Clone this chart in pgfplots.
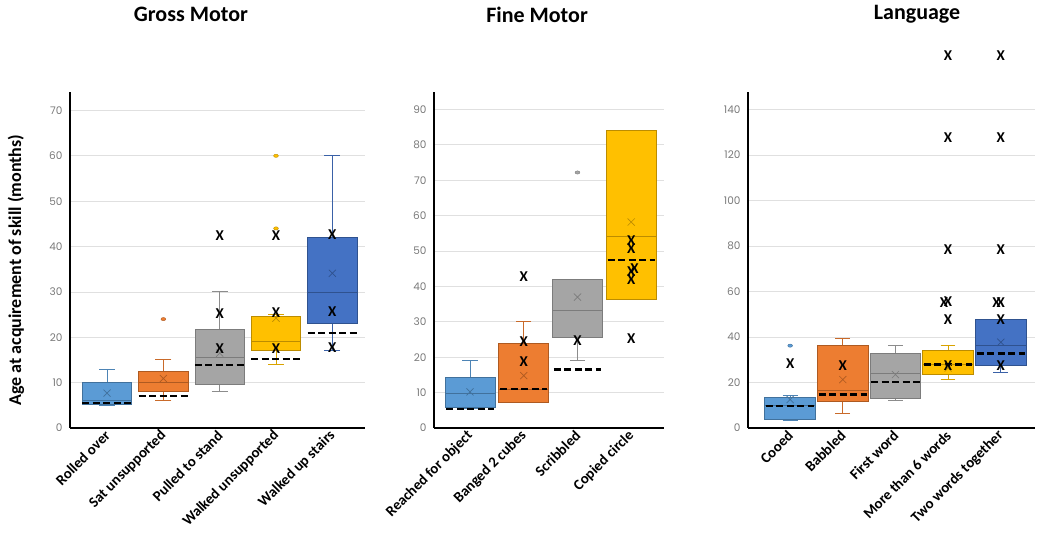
\documentclass[border=0pt]{standalone}
\usepackage{fontspec}
\usepackage{pgfplots}
\pgfplotsset{compat=1.18}
\usepgfplotslibrary{statistics}
\setmainfont{Carlito}
\newfontfamily\tickfont{Poppins}
\definecolor{cA}{HTML}{5B9BD5}\definecolor{dA}{HTML}{41719C}
\definecolor{cB}{HTML}{ED7D31}\definecolor{dB}{HTML}{AE5A21}
\definecolor{cC}{HTML}{A5A5A5}\definecolor{dC}{HTML}{7C7C7C}
\definecolor{cD}{HTML}{FFC000}\definecolor{dD}{HTML}{BC8C00}
\definecolor{cE}{HTML}{4472C4}\definecolor{dE}{HTML}{2F528F}
\definecolor{tickgray}{HTML}{7A7A7A}
\pgfplotsset{panel/.style={scale only axis, anchor=south west, clip=false,
  axis x line*=bottom, axis y line*=left, axis line style={line width=2pt,-},
  ymin=0, ymajorgrids, grid style={line width=0.8pt, black!12},
  major tick length=0pt,
  yticklabel style={font=\tickfont\fontsize{10.5}{12}\selectfont, text=tickgray, xshift=-4pt},
  /pgf/number format/assume math mode=true,
  xticklabel style={rotate=45, anchor=east, yshift=-4pt, font=\bfseries\fontsize{14.8}{16}\selectfont},
  title style={font=\bfseries\fontsize{22}{24}\selectfont, anchor=center},
  boxplot/draw direction=y,
  boxplot/whisker extend=0.28}}
% pos, lw, q1, med, q3, uw, fill, draw
\newcommand{\BOX}[8]{\addplot[draw=#8, fill=#7, line width=0.8pt,
  boxplot/every whisker/.style={draw=#7!85!black, line width=1pt},
  boxplot/every median/.style={draw=#8, line width=0.8pt},
  boxplot prepared={draw position=#1, lower whisker=#2, lower quartile=#3,
  median=#4, upper quartile=#5, upper whisker=#6}] coordinates {};}
\newcommand{\MEAN}[3]{\addplot[only marks, mark=x, mark size=5pt, draw=#3, line width=0.7pt] coordinates {(#1,#2)};}
\newcommand{\OUT}[4]{\addplot[only marks, mark=*, mark size=1.6pt, mark options={xscale=1.5, fill=#3, draw=#4}] coordinates {#1 #2};}
\newcommand{\DASH}[3]{\addplot[black, line width=2.3pt, dash pattern=on 7pt off 3.5pt] coordinates {(#1,#3) (#2,#3)};}
\newcommand{\XS}[1]{\addplot[black, only marks, mark=text, text mark={\fontsize{15}{15}\selectfont\bfseries X}] coordinates {#1};}
\begin{document}
\begin{tikzpicture}
\useasboundingbox (0,0) rectangle (1045pt,545pt);
% ---------------- Gross Motor
\begin{axis}[panel, at={(70pt,117pt)}, width=295pt, height=335.5pt,
  xmin=-0.658, xmax=4.58, ymax=73.96, ytick={0,10,...,70},
  xtick={0,1,2,3,4},
  xticklabels={Rolled over, Sat unsupported, Pulled to stand, Walked unsupported, Walked up stairs},
  boxplot/box extend=0.88,
  title={Gross Motor}, title style={at={(axis description cs:0.41,1.215)}},
  ylabel={Age at acquirement of skill (months)},
  ylabel style={at={(axis description cs:-0.183,0.47)}, anchor=center, font=\bfseries\fontsize{18}{20}\selectfont}]
\BOX{0}{5}{5.3}{6}{10}{13}{cA}{dA}
\MEAN{0}{7.7}{dA}
\BOX{1}{6}{8}{10}{12.4}{15}{cB}{dB}
\MEAN{1}{10.9}{dB}
\OUT{(1,24)}{}{cB}{dB}
\BOX{2}{8}{9.5}{15.5}{21.8}{30}{cC}{dC}
\MEAN{2}{16.5}{dC}
\BOX{3}{14}{17}{19.1}{24.6}{25}{cD}{dD}
\MEAN{3}{24.2}{dD}
\OUT{(3,60)}{(3,44)}{cD}{dD}
\BOX{4}{17}{23}{30}{42}{60}{cE}{dE}
\MEAN{4}{34.1}{dE}
\DASH{-0.44}{0.44}{5.5}
\DASH{0.56}{1.44}{7.0}
\DASH{1.56}{2.44}{13.9}
\DASH{2.56}{3.44}{15.2}
\DASH{3.56}{4.44}{21.0}
\XS{(2,42.4) (2,25.3) (2,17.6) (3,42.4) (3,25.4) (3,17.6) (4,42.7) (4,25.7) (4,17.8)}
\end{axis}
% ---------------- Fine Motor
\begin{axis}[panel, at={(434pt,117pt)}, width=230pt, height=335.5pt,
  xmin=-0.67, xmax=3.61, ymax=94.8, ytick={0,10,...,90},
  xtick={0,1,2,3},
  xticklabels={Reached for object, Banged 2 cubes, Scribbled, Copied circle},
  boxplot/box extend=0.93,
  title={Fine Motor}, title style={at={(axis description cs:0.448,1.215)}}]
\BOX{0}{5.6}{5.8}{9.7}{14.3}{19}{cA}{dA}
\MEAN{0}{10.2}{dA}
\BOX{1}{7.3}{7.3}{11}{24}{30}{cB}{dB}
\MEAN{1}{14.8}{dB}
\BOX{2}{19}{25.7}{33.1}{41.9}{42}{cC}{dC}
\MEAN{2}{37}{dC}
\OUT{(2,72.2)}{}{cC}{dC}
\BOX{3}{36.3}{36.3}{54.2}{84.1}{84.1}{cD}{dD}
\MEAN{3}{58.2}{dD}
\DASH{-0.44}{0.44}{5.4}
\DASH{0.56}{1.44}{11.1}
\DASH{1.56}{2.44}{16.5}
\DASH{2.56}{3.44}{47.4}
\XS{(1,42.7) (1,24.5) (1,18.7) (2,24.7) (3,52.8) (3,50.6) (3.06,45.1) (3,44.1) (3,41.9) (3,25.2)}
\end{axis}
% ---------------- Language
\begin{axis}[panel, at={(748pt,117pt)}, width=287pt, height=335.5pt,
  xmin=-0.80, xmax=4.65, ymax=147.5, ytick={0,20,...,140},
  xtick={0,1,2,3,4},
  xticklabels={Cooed, Babbled, First word, More than 6 words, Two words together},
  boxplot/box extend=0.96,
  title={Language}, title style={at={(axis description cs:0.589,1.215)}}]
\BOX{0}{3.4}{3.7}{10}{13.6}{14.2}{cA}{dA}
\MEAN{0}{12.5}{dA}
\OUT{(0,36.2)}{}{cA}{dA}
\BOX{1}{6.3}{11.6}{16.4}{36.2}{39.3}{cB}{dB}
\MEAN{1}{21.3}{dB}
\BOX{2}{12.2}{13}{24.2}{32.7}{36.2}{cC}{dC}
\MEAN{2}{23.5}{dC}
\BOX{3}{21.3}{23.6}{27.9}{33.9}{36.2}{cD}{dD}
\MEAN{3}{26.4}{dD}
\BOX{4}{24.2}{27.4}{36.2}{47.9}{47.9}{cE}{dE}
\MEAN{4}{37.7}{dE}
\DASH{-0.46}{0.46}{9.8}
\DASH{0.54}{1.46}{14.7}
\DASH{1.54}{2.46}{20.2}
\DASH{2.54}{3.46}{27.9}
\DASH{3.54}{4.46}{32.7}
\XS{(0,28.3) (1,27.4) (3,163.8) (3,127.5) (3,78.4) (2.92,55.2) (3,55.7) (3,47.6) (3,27.4) (4,163.8) (4,127.5) (4,78.4) (3.92,55) (4,55) (4,47.6) (4,27.4)}
\end{axis}
\end{tikzpicture}
\end{document}
